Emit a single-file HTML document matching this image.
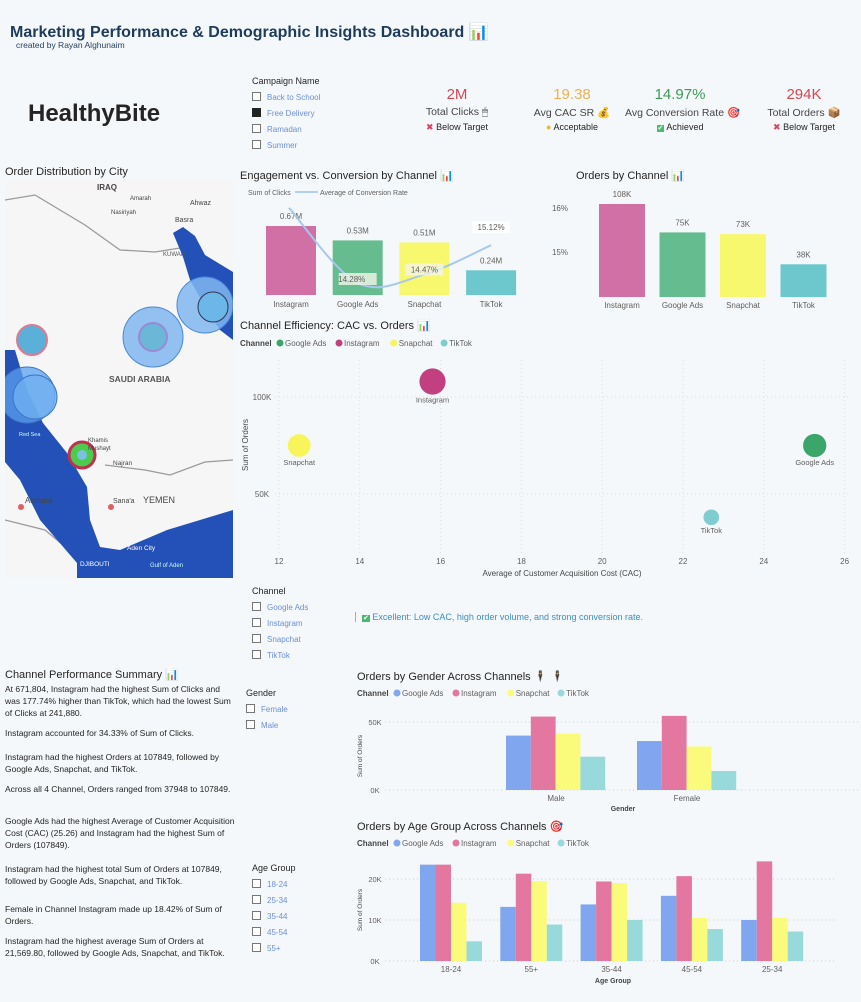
<!DOCTYPE html>
<html><head><meta charset="utf-8">
<style>
body{margin:0;width:861px;height:1002px;overflow:hidden;background:#f5f8fb;font-family:"Liberation Sans","DejaVu Sans",sans-serif;position:relative}
.a{position:absolute;white-space:nowrap}
.t{font-size:11px;color:#252423}
.sl{font-size:8px;color:#6b8fd6}
.cb{display:inline-block;width:7px;height:7px;border:1px solid #777;margin-right:6px;vertical-align:-1px;background:#fff}
.p{position:absolute;left:5px;width:232px;font-size:8.5px;line-height:12px;color:#252423}
</style></head><body>
<div class="a" style="left:10px;top:22px;font-size:16px;font-weight:bold;color:#1f3b5c">Marketing Performance &amp; Demographic Insights Dashboard 📊</div>
<div class="a" style="left:16px;top:40px;font-size:8.5px;color:#1f3b5c">created by Rayan Alghunaim</div>
<div class="a" style="left:28px;top:100px;font-size:24px;font-weight:bold;color:#252423">HealthyBite</div>

<div class="a" style="left:252px;top:76px;font-size:9px;color:#252423">Campaign Name</div>
<div class="a sl" style="left:252px;top:92px"><span class="cb"></span>Back to School</div>
<div class="a sl" style="left:252px;top:108px"><span class="cb" style="background:#222;border-color:#222"></span>Free Delivery</div>
<div class="a sl" style="left:252px;top:124px"><span class="cb"></span>Ramadan</div>
<div class="a sl" style="left:252px;top:140px"><span class="cb"></span>Summer</div>

<div class="a" style="left:407px;top:86px;width:100px;text-align:center">
<div style="font-size:15px;color:#d64550">2M</div><div style="font-size:10.5px;color:#444;margin-top:3px">Total Clicks 🖱</div><div style="font-size:9px;color:#252423;margin-top:3px"><span style="color:#e04060">✖</span> Below Target</div></div>
<div class="a" style="left:522px;top:86px;width:100px;text-align:center">
<div style="font-size:15px;color:#f0b050">19.38</div><div style="font-size:10.5px;color:#444;margin-top:3px">Avg CAC SR 💰</div><div style="font-size:9px;color:#252423;margin-top:3px"><span style="color:#e8b830">●</span> Acceptable</div></div>
<div class="a" style="left:625px;top:86px;width:110px;text-align:center">
<div style="font-size:15px;color:#3d9a5a">14.97%</div><div style="font-size:10.5px;color:#444;margin-top:3px">Avg Conversion Rate 🎯</div><div style="font-size:9px;color:#252423;margin-top:3px"><span style="color:#fff;background:#4cb870;font-size:7px;padding:0 1px">✔</span> Achieved</div></div>
<div class="a" style="left:754px;top:86px;width:100px;text-align:center">
<div style="font-size:15px;color:#d64550">294K</div><div style="font-size:10.5px;color:#444;margin-top:3px">Total Orders 📦</div><div style="font-size:9px;color:#252423;margin-top:3px"><span style="color:#e04060">✖</span> Below Target</div></div>

<div class="a t" style="left:5px;top:166px">Order Distribution by City</div>
<svg class="a" style="left:5px;top:180px" width="228" height="398" viewBox="0 0 228 398">
<rect width="228" height="398" fill="#f6f6f6"/>
<g fill="none" stroke="#9a9a9a" stroke-width="1.3">
<path d="M0,20 L30,15 L80,45 L115,70 L150,72 L175,68"/>
<path d="M100,285 L140,290 L165,295 L200,282 L228,280"/>
<path d="M0,340 L40,350 L70,375 L80,398"/>
</g>
<path d="M168,53 L178,47 L190,56 L200,75 L228,92 L228,160 L215,150 L205,135 L185,100 L178,77 Z" fill="#2451b8"/>
<path d="M0,170 L10,170 L22,210 L38,243 L62,273 L82,307 L85,340 L95,367 L115,370 L162,350 L228,330 L228,398 L72,398 L72,383 L35,340 L15,300 L0,282 Z" fill="#2451b8"/>
<circle cx="22" cy="215" r="28" fill="#5aa0ee" fill-opacity=".75" stroke="#3f74c8"/>
<circle cx="30" cy="217" r="22" fill="#6fb0f0" fill-opacity=".8" stroke="#3f74c8"/>
<circle cx="148" cy="157" r="30" fill="#80b6f0" fill-opacity=".85" stroke="#4a86d8"/>
<circle cx="148" cy="157" r="14" fill="#6ab7d8" stroke="#9a88d8" stroke-width="2"/>
<circle cx="200" cy="125" r="28" fill="#80b6f0" fill-opacity=".85" stroke="#4a86d8"/>
<circle cx="208" cy="127" r="15" fill="#6ab7e8" stroke="#335"/>
<circle cx="27" cy="160" r="15" fill="#5ab0d8" stroke="#e07a90" stroke-width="2"/>
<circle cx="77" cy="275" r="13" fill="#4ccc4c" stroke="#c03050" stroke-width="3"/>
<circle cx="77" cy="275" r="5" fill="#7ac0e0"/>
<g font-family="Liberation Sans, sans-serif" fill="#444">
<text x="92" y="10" font-size="8" font-weight="bold">IRAQ</text>
<text x="125" y="20" font-size="6">Amarah</text>
<text x="106" y="34" font-size="6">Nasiriyah</text>
<text x="185" y="25" font-size="7">Ahwaz</text>
<text x="170" y="42" font-size="7">Basra</text>
<text x="158" y="76" font-size="6" fill="#555">KUWAIT</text>
<text x="104" y="202" font-size="8.5" font-weight="bold" fill="#555">SAUDI ARABIA</text>
<text x="14" y="256" font-size="5.5" fill="#cfe">Red Sea</text>
<text x="83" y="262" font-size="6">Khamis</text>
<text x="83" y="270" font-size="6">Mushayt</text>
<text x="108" y="285" font-size="6.5">Najran</text>
<text x="138" y="323" font-size="9">YEMEN</text>
<text x="108" y="323" font-size="7">Sana'a</text>
<text x="20" y="323" font-size="8">Asmara</text>
<text x="122" y="370" font-size="6.5" fill="#fff">Aden City</text>
<text x="75" y="386" font-size="6.5" fill="#fff">DJIBOUTI</text>
<text x="145" y="387" font-size="6" fill="#cfe">Gulf of Aden</text>
</g>
<circle cx="16" cy="327" r="3" fill="#e06060"/><circle cx="106" cy="327" r="3" fill="#e06060"/>
</svg>

<svg class="a" id="charts" style="left:0;top:0" width="861" height="1002"></svg>

<div class="a sl" style="left:252px;top:586px;font-size:9px;color:#252423">Channel</div>
<div class="a sl" style="left:252px;top:602px"><span class="cb"></span>Google Ads</div>
<div class="a sl" style="left:252px;top:618px"><span class="cb"></span>Instagram</div>
<div class="a sl" style="left:252px;top:634px"><span class="cb"></span>Snapchat</div>
<div class="a sl" style="left:252px;top:650px"><span class="cb"></span>TikTok</div>
<div class="a" style="left:355px;top:612px;font-size:9px;color:#3a8fc0;border-left:1px solid #aaa;padding-left:6px"><span style="color:#fff;background:#4cb870;font-size:7px;padding:0 1px">✔</span> Excellent: Low CAC, high order volume, and strong conversion rate.</div>

<div class="a t" style="left:5px;top:668px">Channel Performance Summary 📊</div>
<div class="p" style="top:683px">At 671,804, Instagram had the highest Sum of Clicks and was 177.74% higher than TikTok, which had the lowest Sum of Clicks at 241,880.</div>
<div class="p" style="top:727px">Instagram accounted for 34.33% of Sum of Clicks.</div>
<div class="p" style="top:751px">Instagram had the highest  Orders at 107849, followed by Google Ads, Snapchat, and TikTok.</div>
<div class="p" style="top:783px">Across all 4 Channel,  Orders ranged from 37948 to 107849.</div>
<div class="p" style="top:815px">Google Ads had the highest Average of Customer Acquisition Cost (CAC) (25.26) and Instagram had the highest Sum of Orders (107849).</div>
<div class="p" style="top:863px">Instagram had the highest total Sum of Orders at 107849, followed by Google Ads, Snapchat, and TikTok.</div>
<div class="p" style="top:903px">Female in Channel Instagram made up 18.42% of Sum of Orders.</div>
<div class="p" style="top:935px">Instagram had the highest average Sum of Orders at 21,569.80, followed by Google Ads, Snapchat, and TikTok.</div>

<div class="a" style="left:246px;top:688px;font-size:9px;color:#252423">Gender</div>
<div class="a sl" style="left:246px;top:704px"><span class="cb"></span>Female</div>
<div class="a sl" style="left:246px;top:720px"><span class="cb"></span>Male</div>
<div class="a" style="left:252px;top:863px;font-size:9px;color:#252423">Age Group</div>
<div class="a sl" style="left:252px;top:879px"><span class="cb"></span>18-24</div>
<div class="a sl" style="left:252px;top:895px"><span class="cb"></span>25-34</div>
<div class="a sl" style="left:252px;top:911px"><span class="cb"></span>35-44</div>
<div class="a sl" style="left:252px;top:927px"><span class="cb"></span>45-54</div>
<div class="a sl" style="left:252px;top:943px"><span class="cb"></span>55+</div>

<script>
const channels = ["Instagram","Google Ads","Snapchat","TikTok"];
const clicksM = [0.67,0.53,0.51,0.24];
const clickLabels = ["0.67M","0.53M","0.51M","0.24M"];
const convRate = [15.95,14.28,14.47,15.12];
const convLabels = ["","14.28%","14.47%","15.12%"];
const ordersK = [108,75,73,38];
const ordersLabels = ["108K","75K","73K","38K"];
const scatterNames = ["Google Ads","Instagram","Snapchat","TikTok"];
const scatterCAC = [25.26,15.8,12.5,22.7];
const scatterOrders = [75,108,75,38];
const scatterClicks = [0.53,0.67,0.51,0.24];
const scatterXTicks = [12,14,16,18,20,22,24,26];
const scatterYTicks = [50,100];
const legendChannels = ["Google Ads","Instagram","Snapchat","TikTok"];
const genders = ["Male","Female"];
const genderGoogle = [40,36];
const genderInsta = [54,54.5];
const genderSnap = [41.5,32];
const genderTik = [24.5,14];
const genderTicks = [0,50];
const ages = ["18-24","55+","35-44","45-54","25-34"];
const ageGoogle = [23.5,13.2,13.8,15.9,10];
const ageInsta = [23.5,21.3,19.4,20.7,24.3];
const ageSnap = [14.2,19.5,19,10.5,10.5];
const ageTik = [4.8,8.9,10,7.8,7.2];
const ageTicks = [0,10,20];

const S=document.getElementById('charts');const NS='http://www.w3.org/2000/svg';
function el(tag,at,txt){const e=document.createElementNS(NS,tag);for(const k in at)e.setAttribute(k,at[k]);if(txt!==undefined)e.textContent=txt;S.appendChild(e);return e;}
function tx(x,y,s,o){return el('text',Object.assign({x:x,y:y,'font-size':8,fill:'#605e5c','text-anchor':'middle','font-family':'Liberation Sans, sans-serif'},o||{}),s);}

let e=tx(240,179,"Engagement vs. Conversion by Channel 📊",{'font-size':11,fill:'#252423','text-anchor':'start'});


tx(248,195,"Sum of Clicks",{'text-anchor':'start','font-size':7});
el('line',{x1:295,y1:192,x2:318,y2:192,stroke:'#9cc4ea','stroke-width':1.5});
tx(320,195,"Average of Conversion Rate",{'text-anchor':'start','font-size':7});
const engCol=['#d070a4','#65bd8f','#f8f86f','#6cc8cc'];
const ex=i=>291+i*66.7, ey=v=>295-v*103, ry=v=>283-(v-14.28)*45;
channels.forEach((c,i)=>{
 const r=el('rect',{x:ex(i)-25,y:ey(clicksM[i]),width:50,height:295-ey(clicksM[i]),fill:engCol[i]});
 
 
 tx(ex(i),ey(clicksM[i])-7,clickLabels[i]);
 tx(ex(i),307,c);
});
{let pts=convRate.map((v,i)=>[ex(i),ry(v)]);pts[0][0]=ex(0)-2;
 let d='M'+pts[0];for(let i=0;i<pts.length-1;i++){const p0=pts[Math.max(0,i-1)],p1=pts[i],p2=pts[i+1],p3=pts[Math.min(pts.length-1,i+2)];
 d+=' C'+(p1[0]+(p2[0]-p0[0])/6)+','+(p1[1]+(p2[1]-p0[1])/6)+' '+(p2[0]-(p3[0]-p1[0])/6)+','+(p2[1]-(p3[1]-p1[1])/6)+' '+p2;}
 const l=el('path',{d:d,fill:'none',stroke:'#a6c8ec','stroke-width':2});
 
 
 convRate.forEach((v,i)=>{if(!convLabels[i])return;const y=ry(v)-(i==3?10:0)-(i==1?-1:0);
 el('rect',{x:ex(i)-19,y:y-14+(i==3?0:3),width:38,height:12,fill:i==3?'#fff':'#f4f4e8','fill-opacity':.8});
 tx(ex(i)+(i==1?-6:0),y-5+(i==3?0:3),convLabels[i]);});
}
e=tx(576,179,"Orders by Channel 📊",{'font-size':11,fill:'#252423','text-anchor':'start'});


tx(560,211,"16%",{'text-anchor':'middle'});tx(560,255,"15%");
const ox=i=>622+i*60.5, oy=v=>297-v*0.861;
channels.forEach((c,i)=>{
 const r=el('rect',{x:ox(i)-23,y:oy(ordersK[i]),width:46,height:297-oy(ordersK[i]),fill:engCol[i]});
 
 
 tx(ox(i),oy(ordersK[i])-7,ordersLabels[i]);
 tx(ox(i),308,c);
});
const legCol={'Google Ads':'#3aa66a','Instagram':'#c2407f','Snapchat':'#f8f55a','TikTok':'#7ecdd0'};
function legend(y,cols,x0){tx(x0,y+3,"Channel",{'text-anchor':'start','font-weight':'bold',fill:'#444'});
 let x=x0+37;legendChannels.forEach((c,i)=>{el('circle',{cx:x+3,cy:y,r:3.5,fill:cols[i]});tx(x+8,y+3,c,{'text-anchor':'start'});x+=c.length*4.3+16;});}
e=tx(240,329,"Channel Efficiency: CAC vs. Orders 📊",{'font-size':11,fill:'#252423','text-anchor':'start'});


legend(343,legendChannels.map(c=>legCol[c]),240);
const sx=v=>279+(v-12)*40.4, sy=v=>591-v*1.94;
scatterXTicks.forEach(t=>{el('line',{x1:sx(t),y1:360,x2:sx(t),y2:555,stroke:'#ddd','stroke-dasharray':'1,3'});tx(sx(t),564,t);});
scatterYTicks.forEach(t=>{el('line',{x1:275,y1:sy(t),x2:850,y2:sy(t),stroke:'#ddd','stroke-dasharray':'1,3'});tx(262,sy(t)+3,t+'K');});
tx(562,576,"Average of Customer Acquisition Cost (CAC)",{fill:'#444'});
tx(248,445,"Sum of Orders",{fill:'#444',transform:'rotate(-90 248 445)'});
scatterNames.forEach((c,i)=>{
 const c1=el('circle',{cx:sx(scatterCAC[i]),cy:sy(scatterOrders[i]),r:Math.sqrt(scatterClicks[i])*16,fill:legCol[c]});
 
 
 tx(sx(scatterCAC[i]),sy(scatterOrders[i])+Math.sqrt(scatterClicks[i])*16+8,c,{'font-size':7.5});
});
const gcol=['#7fa6ee','#e377a0','#fafb7a','#98d9dc'];
e=tx(357,680,"Orders by Gender Across Channels 🕴 🕴",{'font-size':11,fill:'#252423','text-anchor':'start'});


legend(693,gcol,357);
const gy=v=>790-v*1.36;
genderTicks.forEach(t=>{el('line',{x1:385,y1:gy(t),x2:861,y2:gy(t),stroke:'#ccc','stroke-dasharray':'1,3'});tx(375,gy(t)+3,t+'K',{'font-size':7.5});});
tx(362,756,"Sum of Orders",{'font-size':6.5,fill:'#444',transform:'rotate(-90 362 756)'});
const gser=[genderGoogle,genderInsta,genderSnap,genderTik];
genders.forEach((g,j)=>{const x0=506+j*131;
 gser.forEach((s,k)=>{const r=el('rect',{x:x0+k*24.8,y:gy(s[j]),width:24.8,height:790-gy(s[j]),fill:gcol[k]});
 
 });
 tx(x0+50,801,g);});
tx(623,811,"Gender",{'font-size':7,'font-weight':'bold',fill:'#444'});
e=tx(357,830,"Orders by Age Group Across Channels 🎯",{'font-size':11,fill:'#252423','text-anchor':'start'});


legend(843,gcol,357);
const ay=v=>961-v*4.1;
ageTicks.forEach(t=>{el('line',{x1:385,y1:ay(t),x2:836,y2:ay(t),stroke:'#ccc','stroke-dasharray':'1,3'});tx(375,ay(t)+3,t+'K',{'font-size':7.5});});
tx(362,910,"Sum of Orders",{'font-size':6.5,fill:'#444',transform:'rotate(-90 362 910)'});
const aser=[ageGoogle,ageInsta,ageSnap,ageTik];
ages.forEach((g,j)=>{const x0=420+j*80.3;
 aser.forEach((s,k)=>{const r=el('rect',{x:x0+k*15.5,y:ay(s[j]),width:15.5,height:961-ay(s[j]),fill:gcol[k]});
 
 });
 tx(x0+31,972,g);});
tx(613,983,"Age Group",{'font-size':7,'font-weight':'bold',fill:'#444'});
</script>
</body></html>
